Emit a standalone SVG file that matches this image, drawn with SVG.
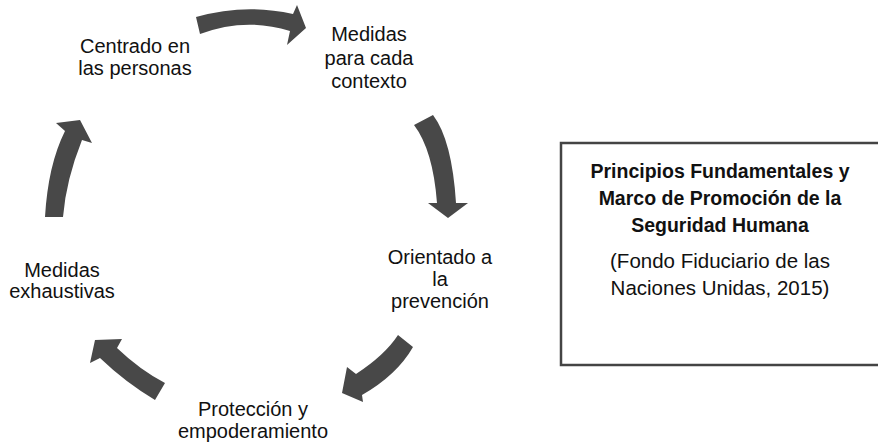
<svg xmlns="http://www.w3.org/2000/svg" width="878" height="444" viewBox="0 0 878 444">
<style>
.lbl{font-family:"Liberation Sans",Arial,sans-serif;font-size:20px;fill:#111;text-anchor:middle}
.ttl{font-family:"Liberation Sans",Arial,sans-serif;font-size:19.5px;font-weight:bold;fill:#111;text-anchor:middle}
.src{font-family:"Liberation Sans",Arial,sans-serif;font-size:20.5px;fill:#111;text-anchor:middle}
.arr{fill:#484848}
</style>
<rect width="878" height="444" fill="#fff"/>
<g id="connectors">
<path class="arr" d="M196,17 Q245,3 293,14 L297,5 L306,28 L287,45 L290,31 Q245,17 200,34 Z"/>
<path class="arr" d="M433,115 Q452,140 456,203 L468,203 L448,218 L428,203 L437,203 Q433,150 414,125 Z"/>
<path class="arr" d="M413,347 Q397,375 362,395 L363,402 L342,393 L347,367 L356,374 Q385,355 398,335 Z"/>
<path class="arr" d="M155,400 Q125,382 100,358 L90,363 L95,340 L122,339 L117,348 Q140,370 165,383 Z"/>
<path class="arr" d="M45,217 Q48,165 65,131 L56,123 L80,120 L92,143 L82,140 Q66,180 63,217 Z"/>
</g>
<g id="n-centrado">
<text class="lbl" x="135" y="53">Centrado en</text>
<text class="lbl" x="135" y="75">las personas</text>
</g>
<g id="n-medidas-contexto">
<text class="lbl" x="369" y="41">Medidas</text>
<text class="lbl" x="369" y="65">para cada</text>
<text class="lbl" x="369" y="88">contexto</text>
</g>
<g id="n-orientado">
<text class="lbl" x="440" y="264">Orientado a</text>
<text class="lbl" x="440" y="286">la</text>
<text class="lbl" x="440" y="308">prevención</text>
</g>
<g id="n-proteccion">
<text class="lbl" x="253" y="416">Protección y</text>
<text class="lbl" x="253" y="438">empoderamiento</text>
</g>
<g id="n-exhaustivas">
<text class="lbl" x="62" y="277">Medidas</text>
<text class="lbl" x="62" y="298">exhaustivas</text>
</g>
<g id="n-box">
<rect x="561" y="143" width="330" height="222" fill="#fff" stroke="#444" stroke-width="2.5"/>
<text class="ttl" x="720" y="178">Principios Fundamentales y</text>
<text class="ttl" x="720" y="205">Marco de Promoción de la</text>
<text class="ttl" x="720" y="232">Seguridad Humana</text>
<text class="src" x="720" y="268">(Fondo Fiduciario de las</text>
<text class="src" x="720" y="295">Naciones Unidas, 2015)</text>
</g>
</svg>
